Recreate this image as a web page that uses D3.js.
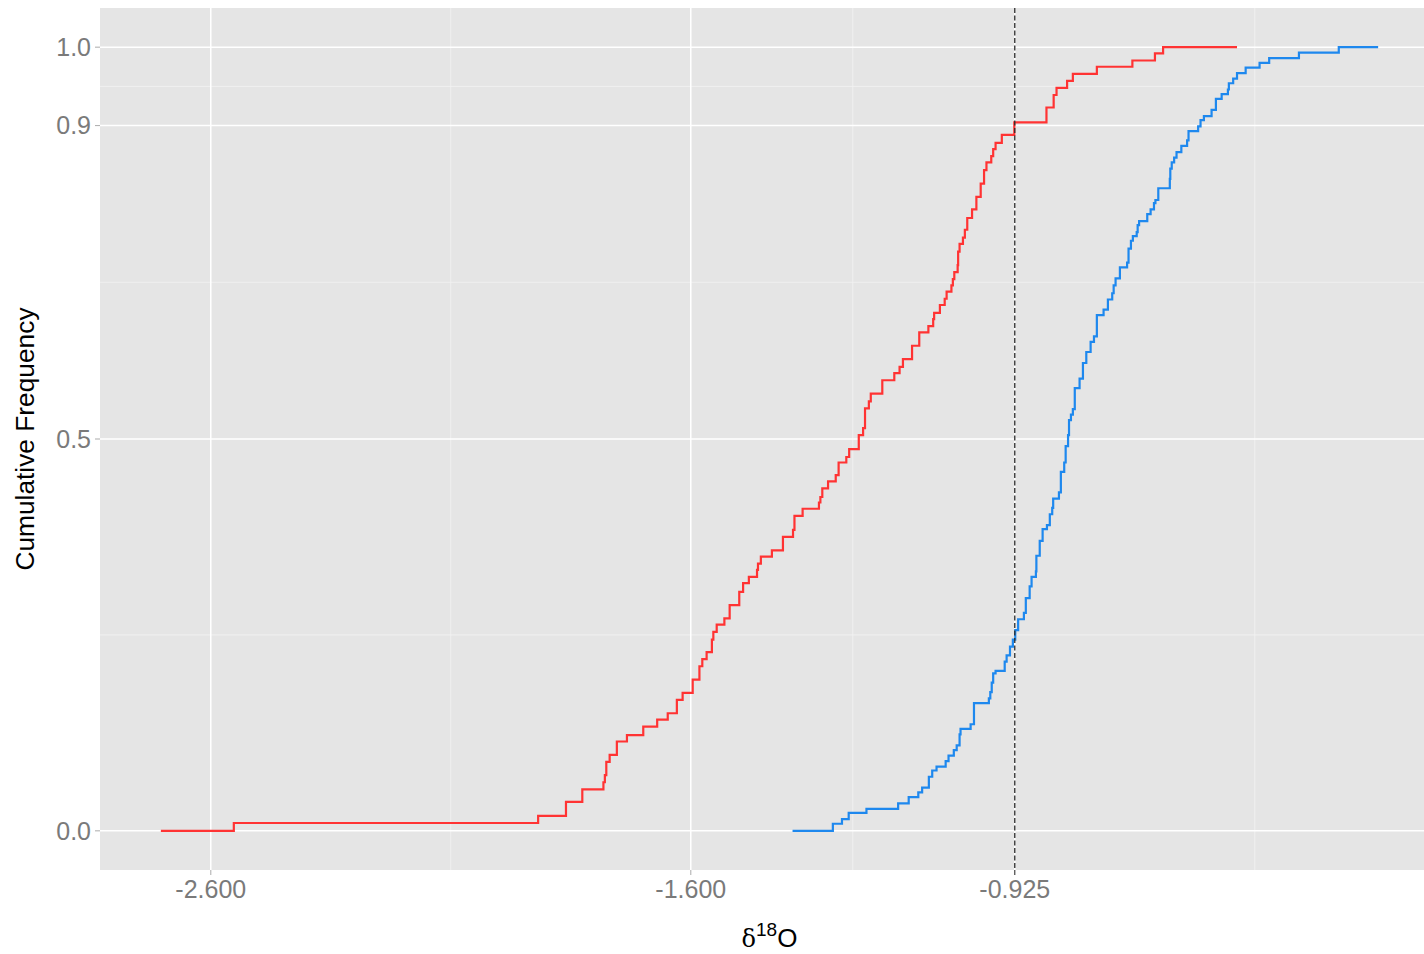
<!DOCTYPE html>
<html>
<head>
<meta charset="utf-8">
<script src="https://cdn.jsdelivr.net/npm/d3@7"></script>
<style>
  body { margin: 0; background: #ffffff; }
  svg { display: block; }
</style>
</head>
<body>
<svg id="chart" width="1424" height="954"></svg>
<script>
// Axis breaks and labels
const xTicks = [-2.6, -1.6, -0.925];
const xTickLabels = ["-2.600", "-1.600", "-0.925"];
const xMinor = [-2.1, -1.2625, -0.425];
const yTicks = [0, 0.5, 0.9, 1.0];
const yTickLabels = ["0.0", "0.5", "0.9", "1.0"];
const yMinor = [0.25, 0.7, 0.95];
const cutoff = -0.925;

// Cumulative frequency, group 1 (step vertices)
const redX = [-2.704, -2.552, -1.918, -1.860, -1.826, -1.782, -1.779, -1.776, -1.769, -1.754,
  -1.733, -1.699, -1.670, -1.648, -1.629, -1.617, -1.596, -1.582, -1.576, -1.567,
  -1.556, -1.553, -1.546, -1.530, -1.519, -1.499, -1.491, -1.479, -1.462, -1.460,
  -1.454, -1.431, -1.408, -1.387, -1.384, -1.367, -1.333, -1.330, -1.326, -1.314,
  -1.298, -1.292, -1.276, -1.270, -1.250, -1.241, -1.237, -1.229, -1.225, -1.201,
  -1.176, -1.165, -1.158, -1.139, -1.124, -1.105, -1.095, -1.093, -1.081, -1.071,
  -1.067, -1.057, -1.054, -1.051, -1.044, -1.043, -1.040, -1.033, -1.029, -1.024,
  -1.014, -1.005, -0.996, -0.989, -0.984, -0.974, -0.970, -0.965, -0.952, -0.926,
  -0.859, -0.844, -0.838, -0.816, -0.804, -0.754, -0.680, -0.633, -0.616, -0.462];
const redY = [0.000, 0.010, 0.019, 0.037, 0.053, 0.062, 0.071, 0.088, 0.097, 0.114,
  0.122, 0.133, 0.142, 0.150, 0.167, 0.176, 0.193, 0.210, 0.219, 0.228,
  0.244, 0.254, 0.263, 0.271, 0.288, 0.305, 0.316, 0.324, 0.333, 0.341,
  0.350, 0.358, 0.375, 0.384, 0.402, 0.411, 0.419, 0.426, 0.437, 0.446,
  0.454, 0.470, 0.477, 0.487, 0.505, 0.514, 0.539, 0.548, 0.558, 0.575,
  0.584, 0.592, 0.602, 0.619, 0.636, 0.644, 0.653, 0.661, 0.671, 0.679,
  0.688, 0.696, 0.704, 0.713, 0.722, 0.739, 0.749, 0.757, 0.767, 0.782,
  0.793, 0.809, 0.826, 0.843, 0.853, 0.861, 0.870, 0.878, 0.888, 0.904,
  0.923, 0.939, 0.948, 0.957, 0.966, 0.975, 0.983, 0.992, 1.000, 1.000];

// Cumulative frequency, group 2 (step vertices)
const blueX = [-1.388, -1.304, -1.285, -1.271, -1.234, -1.168, -1.146, -1.126, -1.118, -1.104,
  -1.097, -1.088, -1.069, -1.063, -1.052, -1.046, -1.040, -1.038, -1.017, -1.010,
  -0.979, -0.976, -0.973, -0.970, -0.965, -0.946, -0.942, -0.935, -0.929, -0.924,
  -0.918, -0.906, -0.902, -0.894, -0.890, -0.881, -0.880, -0.873, -0.867, -0.858,
  -0.852, -0.847, -0.845, -0.833, -0.829, -0.822, -0.819, -0.814, -0.812, -0.808,
  -0.804, -0.800, -0.790, -0.783, -0.776, -0.767, -0.760, -0.754, -0.740, -0.731,
  -0.722, -0.719, -0.715, -0.706, -0.691, -0.688, -0.683, -0.679, -0.671, -0.669,
  -0.666, -0.649, -0.642, -0.635, -0.632, -0.626, -0.602, -0.601, -0.598, -0.593,
  -0.588, -0.578, -0.566, -0.563, -0.543, -0.538, -0.531, -0.515, -0.506, -0.494,
  -0.481, -0.479, -0.470, -0.462, -0.444, -0.415, -0.395, -0.333, -0.250, -0.168];
const blueY = [0.000, 0.009, 0.015, 0.023, 0.028, 0.035, 0.043, 0.049, 0.055, 0.069,
  0.077, 0.082, 0.089, 0.096, 0.103, 0.109, 0.123, 0.130, 0.136, 0.163,
  0.169, 0.177, 0.189, 0.201, 0.204, 0.216, 0.224, 0.235, 0.244, 0.256,
  0.270, 0.278, 0.297, 0.312, 0.324, 0.331, 0.351, 0.370, 0.385, 0.390,
  0.404, 0.412, 0.424, 0.432, 0.458, 0.470, 0.491, 0.505, 0.524, 0.531,
  0.538, 0.565, 0.577, 0.597, 0.611, 0.624, 0.631, 0.658, 0.665, 0.678,
  0.686, 0.696, 0.705, 0.719, 0.725, 0.743, 0.753, 0.759, 0.764, 0.773,
  0.778, 0.787, 0.793, 0.801, 0.805, 0.820, 0.832, 0.845, 0.853, 0.859,
  0.866, 0.874, 0.881, 0.893, 0.899, 0.907, 0.912, 0.920, 0.934, 0.940,
  0.946, 0.954, 0.960, 0.967, 0.974, 0.980, 0.986, 0.993, 1.000, 1.000];

const series = [
  { xs: redX, ys: redY, color: "#FF3333" },
  { xs: blueX, ys: blueY, color: "#1E88EE" }
];

const svg = d3.select("#chart");
const panel = { left: 100, top: 8, right: 1439, bottom: 870 };

// Continuous scales with 5% expansion on each side
const allX = redX.concat(blueX);
const [xMin, xMax] = d3.extent(allX);
const xPad = (xMax - xMin) * 0.05;
const x = d3.scaleLinear().domain([xMin - xPad, xMax + xPad]).range([panel.left, panel.right]);
const y = d3.scaleLinear().domain([-0.05, 1.05]).range([panel.bottom, panel.top]);

const font = "'Liberation Sans', Arial, sans-serif";

svg.append("rect")
  .attr("x", panel.left).attr("y", panel.top)
  .attr("width", panel.right - panel.left).attr("height", panel.bottom - panel.top)
  .attr("fill", "#E5E5E5");

const grid = svg.append("g");
grid.selectAll(".xminor").data(xMinor).join("line")
  .attr("x1", d => x(d)).attr("x2", d => x(d))
  .attr("y1", panel.top).attr("y2", panel.bottom)
  .attr("stroke", "#F2F2F2").attr("stroke-width", 0.9);
grid.selectAll(".yminor").data(yMinor).join("line")
  .attr("x1", panel.left).attr("x2", panel.right)
  .attr("y1", d => y(d)).attr("y2", d => y(d))
  .attr("stroke", "#F2F2F2").attr("stroke-width", 0.9);
grid.selectAll(".xmajor").data(xTicks).join("line")
  .attr("x1", d => x(d)).attr("x2", d => x(d))
  .attr("y1", panel.top).attr("y2", panel.bottom)
  .attr("stroke", "#FFFFFF").attr("stroke-width", 1.5);
grid.selectAll(".ymajor").data(yTicks).join("line")
  .attr("x1", panel.left).attr("x2", panel.right)
  .attr("y1", d => y(d)).attr("y2", d => y(d))
  .attr("stroke", "#FFFFFF").attr("stroke-width", 1.5);

// Step lines
const stepLine = d3.line().curve(d3.curveStepAfter);
series.forEach(s => {
  svg.append("path")
    .attr("d", stepLine(s.xs.map((v, i) => [x(v), y(s.ys[i])])))
    .attr("fill", "none")
    .attr("stroke", s.color)
    .attr("stroke-width", 2.2)
    .attr("stroke-linejoin", "miter");
});

// Reference line
svg.append("line")
  .attr("x1", x(cutoff)).attr("x2", x(cutoff))
  .attr("y1", panel.top).attr("y2", panel.bottom)
  .attr("stroke", "#2A2A2A").attr("stroke-width", 1.3)
  .attr("stroke-dasharray", "5,2.5");

// X axis
const xAxis = svg.append("g");
xAxis.selectAll("line").data(xTicks).join("line")
  .attr("x1", d => x(d)).attr("x2", d => x(d))
  .attr("y1", panel.bottom).attr("y2", panel.bottom + 5)
  .attr("stroke", (d) => d === cutoff ? "#333333" : "#B3B3B3").attr("stroke-width", 1.1);
xAxis.selectAll("text").data(xTicks).join("text")
  .attr("x", d => x(d)).attr("y", 898)
  .attr("text-anchor", "middle")
  .attr("font-family", font).attr("font-size", 25)
  .attr("fill", "#7A7A7A")
  .text((d, i) => xTickLabels[i]);

// Y axis
const yAxis = svg.append("g");
yAxis.selectAll("line").data(yTicks).join("line")
  .attr("x1", panel.left - 5).attr("x2", panel.left)
  .attr("y1", d => y(d)).attr("y2", d => y(d))
  .attr("stroke", "#B3B3B3").attr("stroke-width", 1.1);
yAxis.selectAll("text").data(yTicks).join("text")
  .attr("x", 91).attr("y", d => y(d))
  .attr("dy", "0.35em")
  .attr("text-anchor", "end")
  .attr("font-family", font).attr("font-size", 25)
  .attr("fill", "#7A7A7A")
  .text((d, i) => yTickLabels[i]);

// Axis titles
const xTitle = svg.append("text")
  .attr("x", (panel.left + panel.right) / 2).attr("y", 947)
  .attr("text-anchor", "middle")
  .attr("font-family", font).attr("font-size", 26)
  .attr("fill", "#000000");
xTitle.append("tspan").attr("font-family", "'DejaVu Serif', 'Liberation Serif', serif").attr("font-size", 24).text("δ");
xTitle.append("tspan").attr("font-size", 19).attr("dy", -11).text("18");
xTitle.append("tspan").attr("dy", 11).text("O");

svg.append("text")
  .attr("transform", `translate(34, ${(panel.top + panel.bottom) / 2}) rotate(-90)`)
  .attr("text-anchor", "middle")
  .attr("font-family", font).attr("font-size", 26.3)
  .attr("fill", "#000000")
  .text("Cumulative Frequency");
</script>
</body>
</html>
